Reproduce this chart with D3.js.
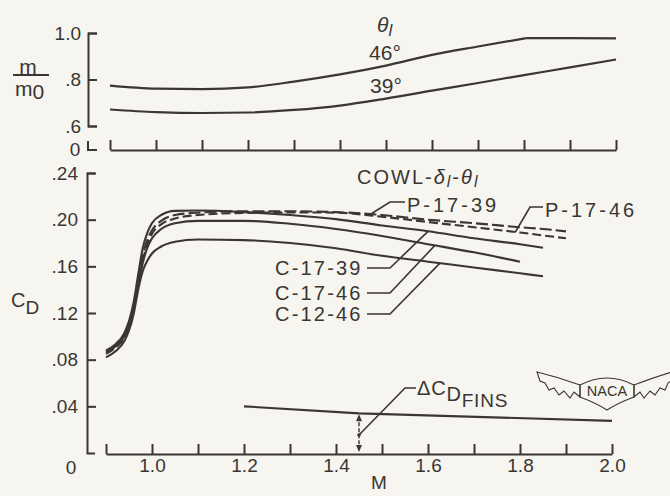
<!DOCTYPE html>
<html>
<head>
<meta charset="UTF-8">
<title>Drag coefficient and mass-flow ratio vs Mach number</title>
<script src="https://cdn.jsdelivr.net/npm/d3@7"></script>
<style>
  body { margin: 0; background: #f6f5ef; }
  svg { display: block; font-family: "Liberation Sans", Arial, sans-serif; }
  text { fill: #3a3633; }
</style>
</head>
<body>
<svg id="chart" width="670" height="496"></svg>
<script>
var ink = "#3a3633";

// top panel: mass-flow ratio m/m0 for two lip angles
var flowMach46 = [0.9, 1.0, 1.1, 1.2, 1.3, 1.4, 1.5, 1.6, 1.7, 1.805, 1.9, 2.0];
var flow46     = [0.774, 0.761, 0.759, 0.766, 0.791, 0.822, 0.860, 0.906, 0.942, 0.978, 0.978, 0.977];
var flowMach39 = [0.9, 1.0, 1.1, 1.2, 1.3, 1.4, 1.5, 1.6, 1.7, 1.8, 1.9, 2.0];
var flow39     = [0.671, 0.660, 0.656, 0.658, 0.669, 0.688, 0.718, 0.752, 0.785, 0.819, 0.852, 0.886];
var flowTicksY = [0.6, 0.8, 1.0];

// bottom panel: drag coefficient
var cdMach = [0.9, 0.92, 0.94, 0.95, 0.96, 0.97, 0.98, 0.99, 1.0, 1.02, 1.05, 1.1, 1.2, 1.3, 1.4, 1.5, 1.6, 1.7, 1.8, 1.85, 1.9];
var cdC1739 = [0.088, 0.093, 0.103, 0.113, 0.129, 0.153, 0.176, 0.189, 0.197, 0.204, 0.2075, 0.2078, 0.2065, 0.204, 0.2005, 0.195, 0.190, 0.184, 0.179, 0.176, null];
var cdP1739 = [0.087, 0.092, 0.101, 0.111, 0.125, 0.147, 0.169, 0.183, 0.191, 0.199, 0.204, 0.206, 0.2072, 0.2072, 0.2065, 0.204, 0.200, 0.197, 0.1935, 0.192, 0.190];
var cdP1746 = [0.085, 0.090, 0.099, 0.109, 0.123, 0.144, 0.165, 0.179, 0.188, 0.196, 0.201, 0.204, 0.2058, 0.2062, 0.206, 0.2025, 0.198, 0.1935, 0.189, 0.1865, 0.184];
var cdC1746 = [0.086, 0.091, 0.100, 0.109, 0.123, 0.144, 0.163, 0.176, 0.184, 0.192, 0.197, 0.1990, 0.199, 0.1965, 0.192, 0.186, 0.179, 0.172, 0.164, null, null];
var cdC1246 = [0.082, 0.087, 0.096, 0.105, 0.119, 0.140, 0.156, 0.165, 0.171, 0.177, 0.181, 0.183, 0.1825, 0.180, 0.1755, 0.169, 0.164, 0.159, 0.154, 0.1515, null];
var cdTicksY = [0.04, 0.08, 0.12, 0.16, 0.20, 0.24];

// fin drag increment
var finsMach = [1.2, 1.45, 2.0];
var finsCd   = [0.040, 0.034, 0.0275];

var machTicks = d3.range(9, 21).map(function(d) { return d / 10; });

// curve labels with leader lines
var cdSeries = [
  { name: "P-17-39", values: cdP1739, dash: "12,4", lx: 407, ly: 205, knee: 390, kneeY: 202, at: 1.475 },
  { name: "P-17-46", values: cdP1746, dash: "9,4",  lx: 545, ly: 210, knee: 530, kneeY: 207, at: 1.79 },
  { name: "C-17-39", values: cdC1739, dash: null,   lx: 275, ly: 268, knee: 390, kneeY: 268, at: 1.60 },
  { name: "C-17-46", values: cdC1746, dash: null,   lx: 275, ly: 293, knee: 390, kneeY: 293, at: 1.615 },
  { name: "C-12-46", values: cdC1246, dash: null,   lx: 275, ly: 314, knee: 390, kneeY: 314, at: 1.626 }
];

var svg = d3.select("#chart");
svg.append("rect").attr("width", 670).attr("height", 496).attr("fill", "#f6f5ef");

var xTop = d3.scaleLinear().domain([0.9, 2.0]).range([110, 616]);
var yTop = d3.scaleLinear().domain([0.6, 1.0]).range([126, 33]);
var xBot = d3.scaleLinear().domain([0.9, 2.0]).range([106, 612]);
var yBot = d3.scaleLinear().domain([0, 0.24]).range([453, 173]);

function styleAxis(g) {
  g.attr("color", ink).attr("font-family", null).attr("font-size", null);
  g.selectAll("path, line").attr("stroke-width", 2);
  g.selectAll("text").attr("font-size", 19).attr("fill", ink);
}

// ---- top panel axes
svg.append("g").attr("transform", "translate(88,0)")
  .call(d3.axisLeft(yTop).tickValues(flowTicksY).tickSize(-9).tickSizeOuter(-9).tickPadding(7)
    .tickFormat(function(d) { return d === 1 ? "1.0" : d3.format(".1f")(d).replace(/^0\./, "."); }))
  .call(styleAxis);

svg.append("g").attr("transform", "translate(0,150)")
  .call(d3.axisBottom(xTop).tickValues(machTicks).tickSize(-10).tickSizeOuter(0).tickFormat(""))
  .call(styleAxis);

// broken-axis zero mark
svg.append("path").attr("d", "M88,141V150H97").attr("fill", "none").attr("stroke", ink).attr("stroke-width", 2);
svg.append("text").attr("x", 75).attr("y", 149).attr("dy", "0.36em").attr("text-anchor", "middle").attr("font-size", 19).text("0");

// m/m0 label
svg.append("text").attr("x", 28).attr("y", 66).attr("dy", "0.36em").attr("text-anchor", "middle").attr("font-size", 21).text("m");
svg.append("line").attr("x1", 13).attr("x2", 49).attr("y1", 75).attr("y2", 75).attr("stroke", ink).attr("stroke-width", 2);
var m0 = svg.append("text").attr("x", 15).attr("y", 96).attr("font-size", 21);
m0.append("tspan").text("m");
m0.append("tspan").attr("dy", 3).text("0");

// top curves
var flowLine = d3.line().curve(d3.curveMonotoneX)
  .x(function(d) { return xTop(d[0]); }).y(function(d) { return yTop(d[1]); });
var kink = flowMach46.indexOf(1.805);
var pts46 = flowMach46.map(function(m, i) { return [m, flow46[i]]; });
svg.append("path").attr("d", flowLine(pts46.slice(0, kink + 1)))
  .attr("fill", "none").attr("stroke", ink).attr("stroke-width", 2.2);
svg.append("path").attr("d", d3.line().x(function(d) { return xTop(d[0]); }).y(function(d) { return yTop(d[1]); })(pts46.slice(kink)))
  .attr("fill", "none").attr("stroke", ink).attr("stroke-width", 2.2);
svg.append("path").attr("d", flowLine(flowMach39.map(function(m, i) { return [m, flow39[i]]; })))
  .attr("fill", "none").attr("stroke", ink).attr("stroke-width", 2.2);

var theta = svg.append("text").attr("x", 377).attr("y", 32).attr("font-size", 21).attr("font-style", "italic");
theta.append("tspan").text("θ");
theta.append("tspan").attr("dy", 4).attr("font-size", 17).text("l");
svg.append("text").attr("x", 385).attr("y", 52).attr("dy", "0.36em").attr("text-anchor", "middle").attr("font-size", 21).text("46°");
svg.append("text").attr("x", 386).attr("y", 85).attr("dy", "0.36em").attr("text-anchor", "middle").attr("font-size", 21).text("39°");

// ---- bottom panel axes
svg.append("g").attr("transform", "translate(87,0)")
  .call(d3.axisLeft(yBot).tickValues(cdTicksY).tickSize(-9).tickSizeOuter(-8).tickPadding(9)
    .tickFormat(function(d) { return d3.format(".2f")(d).replace(/^0\./, "."); }))
  .call(styleAxis);

svg.append("g").attr("transform", "translate(0,454)")
  .call(d3.axisBottom(xBot).tickValues(machTicks).tickSize(-10).tickSizeOuter(0).tickPadding(5)
    .tickFormat(function(d) { return Math.round(d * 10) % 2 === 0 ? d3.format(".1f")(d) : ""; }))
  .call(styleAxis);

svg.append("text").attr("x", 71).attr("y", 467).attr("dy", "0.36em").attr("text-anchor", "middle").attr("font-size", 19).text("0");
svg.append("text").attr("x", 379).attr("y", 482).attr("dy", "0.36em").attr("text-anchor", "middle").attr("font-size", 19).text("M");

var cdLabel = svg.append("text").attr("x", 11).attr("y", 307).attr("font-size", 20);
cdLabel.append("tspan").text("C");
cdLabel.append("tspan").attr("dy", 7).attr("font-size", 19).text("D");

// bottom curves
var cdLine = d3.line().curve(d3.curveMonotoneX)
  .defined(function(d) { return d[1] != null; })
  .x(function(d) { return xBot(d[0]); }).y(function(d) { return yBot(d[1]); });

cdSeries.forEach(function(s) {
  svg.append("path").attr("d", cdLine(cdMach.map(function(m, i) { return [m, s.values[i]]; })))
    .attr("fill", "none").attr("stroke", ink).attr("stroke-width", 2.1)
    .attr("stroke-dasharray", s.dash);
});

function valueAt(values, m) {
  var pts = cdMach.map(function(mm, i) { return [mm, values[i]]; }).filter(function(d) { return d[1] != null; });
  var i = d3.bisector(function(d) { return d[0]; }).left(pts, m);
  var a = pts[i - 1], b = pts[i];
  return a[1] + (b[1] - a[1]) * (m - a[0]) / (b[0] - a[0]);
}

cdSeries.forEach(function(s) {
  var left = s.name.charAt(0) === "C";
  var startX = left ? s.lx + 92 : s.lx - 2;
  svg.append("path")
    .attr("d", "M" + startX + "," + s.kneeY + "H" + s.knee + "L" + xBot(s.at) + "," + yBot(valueAt(s.values, s.at)))
    .attr("fill", "none").attr("stroke", ink).attr("stroke-width", 1.6);
  svg.append("text").attr("x", s.lx).attr("y", s.ly).attr("dy", "0.36em")
    .attr("font-size", 20).attr("letter-spacing", left ? 2.2 : 3).text(s.name);
});

var cowl = svg.append("text").attr("x", 357).attr("y", 184).attr("font-size", 20).attr("letter-spacing", 2);
cowl.append("tspan").text("COWL-");
cowl.append("tspan").attr("font-style", "italic").text("δ");
cowl.append("tspan").attr("dy", 3).attr("font-size", 16).attr("font-style", "italic").text("l");
cowl.append("tspan").attr("dy", -3).text("-");
cowl.append("tspan").attr("font-style", "italic").text("θ");
cowl.append("tspan").attr("dy", 3).attr("font-size", 16).attr("font-style", "italic").text("l");

// fin increment line
svg.append("path")
  .attr("d", d3.line().x(function(d, i) { return xBot(finsMach[i]); }).y(function(d) { return yBot(d); })(finsCd))
  .attr("fill", "none").attr("stroke", ink).attr("stroke-width", 2.1);

var dimX = xBot(1.45), dimTop = yBot(finsCd[1]), dimBot = yBot(0);
svg.append("line").attr("x1", dimX).attr("x2", dimX).attr("y1", dimTop + 3).attr("y2", dimBot - 3)
  .attr("stroke", ink).attr("stroke-width", 1.4).attr("stroke-dasharray", "4,2");
svg.append("path").attr("d", "M" + (dimX - 3) + "," + (dimTop + 8) + "L" + dimX + "," + (dimTop + 1) + "L" + (dimX + 3) + "," + (dimTop + 8) + "Z").attr("fill", ink);
svg.append("path").attr("d", "M" + (dimX - 3) + "," + (dimBot - 8) + "L" + dimX + "," + (dimBot - 1) + "L" + (dimX + 3) + "," + (dimBot - 8) + "Z").attr("fill", ink);
svg.append("circle").attr("cx", dimX).attr("cy", 435).attr("r", 1.8).attr("fill", ink);
svg.append("path").attr("d", "M" + dimX + ",435L405,388H416").attr("fill", "none").attr("stroke", ink).attr("stroke-width", 1.6);

var fins = svg.append("text").attr("x", 417).attr("y", 395).attr("font-size", 20).attr("letter-spacing", 0.8);
fins.append("tspan").text("ΔC");
fins.append("tspan").attr("dy", 6).text("D");
fins.append("tspan").attr("dy", 6).attr("font-size", 19).text("FINS");

// NACA wings emblem
var logo = svg.append("g").attr("fill", "none").attr("stroke", ink).attr("stroke-width", 1.1);
logo.append("path").attr("d", "M537,372 Q558,377 580,385 L580,397 L574,392 L570,398 L564,391 L559,395 L554,388 L549,390 L545,383 L540,381 Z");
logo.append("path").attr("d", "M672,372 Q655,377 634,385 L634,397 L640,392 L644,398 L650,391 L655,395 L660,388 L665,390 L668,383 L671,381 Z");
logo.append("path").attr("d", "M580,385 Q607,371 634,385 L634,397 Q618,403 607,410 Q596,403 580,397 Z");
svg.append("text").attr("x", 607).attr("y", 396).attr("text-anchor", "middle").attr("font-size", 14.5).text("NACA");
</script>
</body>
</html>
